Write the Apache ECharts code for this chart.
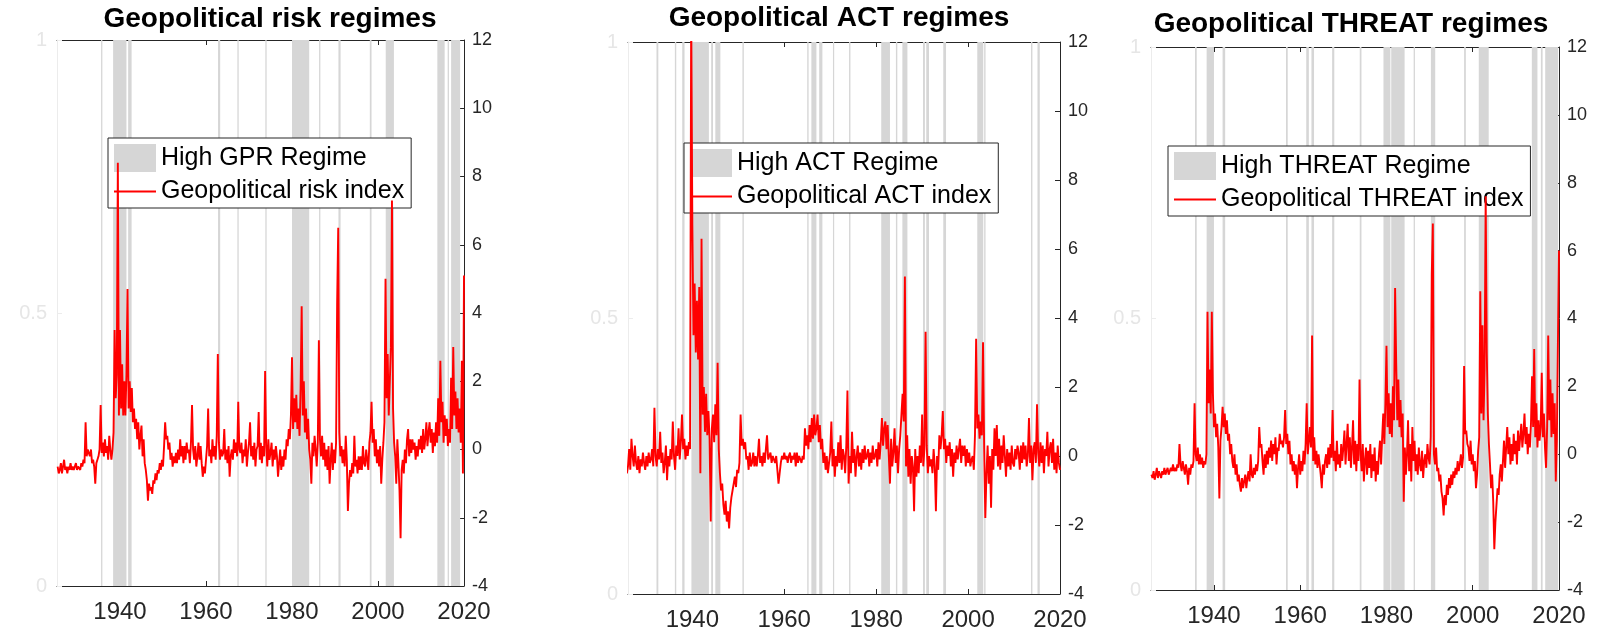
<!DOCTYPE html>
<html lang="en">
  <head>
    <meta charset="UTF-8" />
    <title>Geopolitical risk, ACT and THREAT regimes</title>
    <script src="https://cdn.jsdelivr.net/npm/echarts@6/dist/echarts.min.js"></script>
    <style>
      * {
        margin: 0;
        padding: 0;
      }
      body {
        background: #fff;
      }
    </style>
  </head>
  <body>
    <div id="main" style="width: 1597px; height: 635px"></div>
    <script>
      // readings, one per quarter, first one at 1925.5
      var startYear = 1925.5;
      var step = 0.25;

      var gprIndex = [
        -0.5,-0.7,
        // 1926-1929
        -0.6,-0.4,-0.7,-0.5, -0.3,-0.6,-0.5,-0.7, -0.5,-0.6,-0.4,-0.6, -0.5,-0.6,-0.5,-0.4,
        // 1930-1933
        -0.6,-0.5,-0.5,-0.6, -0.4,-0.5,-0.3,-0.4, 0.8,-0.2,0.0,-0.1, -0.2,0.0,-0.4,-0.3,
        // 1934-1937
        -0.5,-1.0,-0.4,-0.3, -0.2,0.0,1.3,-0.1, 0.2,-0.2,0.3,-0.1, 0.1,-0.3,0.4,0.0,
        // 1938-1941
        -0.3,0.0,0.5,3.5, 1.5,2.2,8.4,1.0, 3.5,1.2,2.5,1.0, 2.0,1.0,2.2,4.7,
        // 1942-1945
        1.2,2.0,1.1,1.8, 0.8,1.2,0.6,0.9, 0.3,0.8,0.0,0.4, 0.7,-0.2,0.3,-0.4,
        // 1946-1949
        -0.6,-0.9,-1.5,-1.0, -1.2,-1.1,-1.3,-0.9, -1.0,-0.7,-0.9,-0.6, -0.7,-0.4,-0.6,-0.3,
        // 1950-1953
        -0.5,0.1,0.8,0.3, 0.4,0.0,0.2,-0.3, -0.1,-0.5,-0.2,-0.4, -0.1,-0.4,0.0,-0.3,
        // 1954-1957
        0.3,-0.2,0.1,-0.4, 0.1,-0.3,0.2,-0.1, 0.0,-0.4,0.2,1.3, 0.0,-0.3,0.1,-0.5,
        // 1958-1961
        -0.2,0.2,-0.3,0.1, -0.4,-0.8,-0.5,-0.7, -0.3,0.1,1.2,-0.2, 0.0,-0.4,0.3,-0.2,
        // 1962-1965
        0.1,-0.3,0.4,2.8, 0.2,-0.3,0.0,-0.2, -0.1,0.6,-0.3,0.0, -0.4,0.1,-0.8,-0.2,
        // 1966-1969
        0.0,-0.3,0.3,-0.1, 0.2,-0.2,1.4,0.0, -0.1,0.2,-0.4,0.0, -0.2,0.3,-0.5,-0.1,
        // 1970-1973
        0.2,0.8,-0.2,0.1, -0.3,0.2,-0.5,0.0, 0.1,1.1,-0.3,0.2, -0.4,0.1,-0.2,2.3,
        // 1974-1977
        0.1,-0.5,0.3,-0.3, -0.1,0.2,-0.5,0.0, -0.3,0.1,-0.2,-0.8, -0.4,0.0,-0.6,-0.2,
        // 1978-1981
        -0.5,0.0,-0.3,0.3, 0.1,0.6,0.3,1.0, 2.7,0.6,1.5,0.8, 1.6,0.6,1.2,0.4,
        // 1982-1985
        1.8,4.2,1.0,2.0, 0.5,1.2,0.3,0.9, 0.0,-0.3,-1.0,0.2, -0.2,0.4,0.0,-0.5,
        // 1986-1989
        0.2,3.2,0.3,-0.2, 0.4,-0.3,0.2,-0.5, 0.0,-0.6,0.1,-1.0, -0.3,0.2,-0.6,0.0,
        // 1990-1993
        -0.4,0.2,4.3,6.5, 0.5,-0.2,0.1,-0.4, 0.0,-0.5,0.4,-0.3, -1.8,-1.0,-0.6,-0.8,
        // 1994-1997
        -0.4,-0.7,0.4,-0.5, -0.3,-0.7,-0.2,-0.6, -0.2,-0.6,0.1,-0.4, -0.5,0.0,-0.3,-0.6,
        // 1998-2001
        0.2,0.5,1.4,0.2, 0.6,-0.2,0.3,-0.4, 0.0,-0.5,0.1,-1.0, -0.3,0.2,0.8,5.0,
        // 2002-2005
        1.5,2.8,1.0,2.0, 3.0,7.3,1.2,0.2, -0.2,-1.0,0.3,-0.4, -1.2,-2.6,-0.6,-0.3,
        // 2006-2009
        -0.7,0.0,-0.4,0.3, 0.6,-0.2,0.3,-0.1, 0.3,0.0,0.2,-0.3, 0.1,-0.2,0.3,0.0,
        // 2010-2013
        0.4,-0.1,0.6,0.0, 0.3,0.8,0.1,0.5, 0.8,0.2,0.6,-0.1, 0.5,0.1,0.8,0.2,
        // 2014-2017
        1.5,0.4,2.6,0.8, 1.4,0.2,1.0,0.4, 0.9,0.1,0.6,0.2, 2.1,0.6,3.0,1.0,
        // 2018-2020
        1.7,0.6,1.5,0.5, 1.2,0.2,2.6,-0.7, 5.1
      ];

      var actIndex = [
        -0.2,-0.5,
        // 1926-1929
        -0.3,0.2,-0.4,0.5, 0.0,-0.3,0.3,-0.2, -0.4,0.0,-0.5,-0.1, -0.3,0.1,-0.2,-0.4,
        // 1930-1933
        0.0,-0.3,0.1,-0.2, -0.1,0.2,-0.3,1.4, 0.0,-0.3,0.2,-0.1, 0.7,-0.2,0.1,-0.5,
        // 1934-1937
        -0.2,0.3,-0.7,0.0, -0.3,0.2,-0.1,1.0, 0.0,-0.4,0.3,0.0, 0.8,-0.1,0.4,1.2,
        // 1938-1941
        0.2,0.5,-0.1,0.3, 0.0,0.4,0.2,13.0, 6.7,3.5,5.0,3.0, 4.5,2.8,4.9,-0.5,
        // 1942-1945
        6.3,1.2,2.0,0.7, 1.8,0.6,1.3,0.5, -1.9,0.8,1.2,0.4, 1.5,0.6,2.7,0.2,
        // 1946-1949
        -0.5,-1.0,-0.8,-1.4, -1.7,-1.3,-1.9,-1.6, -2.1,-1.5,-1.2,-1.0, -0.8,-0.6,-0.9,-0.4,
        // 1950-1953
        -0.5,-0.2,1.2,0.3, 0.5,0.2,0.4,-0.1, 0.0,-0.4,0.1,-0.3, -0.2,0.1,-0.3,0.0,
        // 1954-1957
        -0.3,0.0,0.5,-0.2, 0.0,-0.3,0.1,-0.2, 0.2,0.6,-0.1,0.0, 0.1,-0.2,0.0,-0.1,
        // 1958-1961
        -0.2,0.0,-0.4,-0.8, -0.5,-0.2,0.0,-0.1, 0.1,-0.1,0.0,-0.2, 0.0,0.1,-0.2,0.0,
        // 1962-1965
        -0.1,0.1,-0.3,0.1, -0.2,0.0,-0.1,-0.2, 0.0,-0.1,0.8,0.3, 0.6,0.2,0.9,0.4,
        // 1966-1969
        1.1,0.5,1.2,0.6, 0.8,1.2,0.4,0.9, 0.2,0.5,-0.2,0.1, -0.4,0.0,-0.5,-0.2,
        // 1970-1973
        0.1,1.0,-0.3,0.2, -0.6,0.0,-0.3,0.4, -0.2,0.6,-0.4,0.2, 0.0,-0.5,0.3,1.9,
        // 1974-1977
        -0.8,0.0,-0.5,0.7, -0.2,0.2,-0.6,0.0, 0.3,-0.3,0.1,-0.4, 0.2,-0.2,0.3,-0.1,
        // 1978-1981
        0.0,0.2,-0.3,0.1, -0.2,0.3,-0.1,0.0, 0.2,-0.3,0.4,-0.1, 0.4,1.1,0.3,0.8,
        // 1982-1985
        1.0,0.2,0.9,0.0, -0.8,0.5,-0.3,0.1, 0.8,-0.2,0.3,-0.5, 0.2,0.6,1.2,1.8,
        // 1986-1989
        1.0,5.2,-0.3,0.6, -0.6,0.2,-0.8,0.0, -0.3,-1.6,0.2,-0.6, 0.0,-0.5,0.3,-0.2,
        // 1990-1993
        1.2,-0.3,0.2,3.6, 0.3,-0.5,0.0,-0.3, -0.1,-0.5,0.2,-0.3, -1.6,0.0,-0.4,0.6,
        // 1994-1997
        0.2,0.6,1.3,0.2, 0.5,-0.2,0.3,0.0, 0.4,-0.3,0.2,-0.6, 0.1,-0.2,0.3,-0.1,
        // 1998-2001
        0.2,0.5,-0.2,0.3, 0.0,0.3,-0.3,0.2, -0.2,0.1,-0.3,-0.1, 0.0,-0.4,0.6,3.4,
        // 2002-2005
        0.8,1.2,0.5,1.0, 0.6,3.3,0.2,-1.8, -0.5,0.3,-0.8,0.0, -1.5,0.2,-0.4,0.8,
        // 2006-2009
        0.0,0.9,-0.3,0.5, -0.4,0.3,-0.2,0.6, 0.0,-0.6,0.2,-0.3, 0.1,-0.4,0.3,-0.2,
        // 2010-2013
        -0.3,0.2,-0.1,0.3, 0.1,-0.4,0.3,-0.2, 0.4,-0.1,0.3,-0.3, 0.0,1.1,-0.2,0.3,
        // 2014-2017
        -0.7,0.2,0.4,-0.2, 1.5,0.1,-0.3,0.4, -0.2,0.3,-0.5,0.2, 0.0,0.7,-0.3,0.2,
        // 2018-2020
        0.4,-0.2,0.5,-0.4, 0.1,-0.5,0.3,-0.2, -0.4
      ];

      var threatIndex = [
        -0.6,-0.7,
        // 1926-1929
        -0.5,-0.75,-0.6,-0.4, -0.7,-0.5,-0.6,-0.7, -0.5,-0.6,-0.4,-0.6, -0.5,-0.4,-0.6,-0.5,
        // 1930-1933
        -0.4,-0.5,-0.3,-0.5, -0.4,-0.5,-0.3,-0.4, 0.3,-0.3,-0.5,-0.2, -0.4,-0.6,-0.3,-0.5,
        // 1934-1937
        -0.9,-0.4,-0.6,-0.3, -0.4,-0.2,1.5,0.0, -0.2,0.2,-0.3,0.0, -0.3,-0.1,-0.4,-0.2,
        // 1938-1941
        -0.3,0.0,4.2,1.5, 2.5,1.2,4.2,1.8, 0.8,1.2,0.5,0.9, 0.2,-1.3,0.4,0.8,
        // 1942-1945
        1.4,0.8,1.2,0.6, 1.0,0.4,0.6,0.0, 0.3,-0.2,-0.4,0.0, -0.6,-0.3,-0.8,-0.6,
        // 1946-1949
        -0.9,-1.1,-0.7,-1.0, -0.8,-0.6,-1.0,-0.7, -0.5,-0.8,0.0,-0.6, -0.7,-0.4,-0.6,-0.3,
        // 1950-1953
        -0.5,-0.2,0.8,0.2, 0.3,-0.2,-0.6,0.0, -0.4,0.1,-0.3,0.2, -0.1,0.4,-0.2,0.3,
        // 1954-1957
        0.0,0.5,-0.3,0.2, 0.1,0.6,0.3,0.4, 0.2,0.5,1.3,0.3, 0.6,0.0,0.4,-0.3,
        // 1958-1961
        0.0,-0.5,-0.2,-0.6, -0.3,-1.0,-0.4,0.0, -0.6,-0.2,-0.5,0.1, -0.3,0.3,1.5,0.0,
        // 1962-1965
        0.4,0.8,0.2,3.5, -0.2,0.5,-0.3,0.1, -0.4,0.0,-0.3,-0.6, -1.0,-0.3,-0.6,-0.2,
        // 1966-1969
        0.0,-0.4,0.2,-0.3, 0.3,-0.1,1.3,-0.2, 0.1,-0.5,0.4,-0.3, 0.0,-0.4,0.3,-0.2,
        // 1970-1973
        0.2,0.7,-0.3,0.3, 0.9,-0.2,0.5,-0.4, 0.2,1.0,-0.3,0.4, -0.5,0.3,-0.2,2.2,
        // 1974-1977
        0.0,-0.5,0.3,-0.8, -0.2,0.2,-0.6,0.1, -0.4,0.3,-0.7,0.0, -0.5,0.2,-0.8,-0.2,
        // 1978-1981
        -0.6,0.0,0.4,-0.3, 0.5,1.2,0.3,1.5, 3.2,0.8,1.8,0.6, 1.5,0.5,2.0,1.0,
        // 1982-1985
        4.9,2.7,1.0,2.2, 0.8,1.6,0.5,1.2, -1.4,0.2,-0.6,0.0, 1.0,-0.5,0.3,-0.8,
        // 1986-1989
        0.8,-0.2,0.4,-0.5, 0.0,-0.6,0.2,-0.3, -0.5,0.1,-0.7,-0.2, 0.0,-0.4,0.3,-0.1,
        // 1990-1993
        -0.3,0.5,5.3,6.8, 0.0,-0.3,0.2,-0.5, -0.4,-0.8,-0.6,-1.1, -1.3,-1.8,-1.2,-1.5,
        // 1994-1997
        -0.9,-1.2,-0.7,-1.0, -0.6,-0.9,-0.5,-0.7, -0.4,-0.6,-0.2,-0.5, -0.3,0.0,-0.4,-0.1,
        // 1998-2001
        2.6,0.6,0.7,0.3, 0.2,-0.2,0.4,-0.3, 0.0,-0.5,-0.2,-1.0, -0.6,0.1,0.5,4.8,
        // 2002-2005
        1.2,3.8,1.0,2.5, 7.6,3.0,1.2,0.3, -0.3,-1.0,-0.6,-1.4, -2.8,-2.0,-1.5,-1.0,
        // 2006-2009
        -1.2,-0.6,-0.3,-0.8, -0.2,0.4,-0.4,0.2, 0.8,0.0,0.5,-0.3, 0.3,-0.2,0.6,0.0,
        // 2010-2013
        0.4,-0.3,0.7,0.1, 0.5,0.9,0.2,0.6, 1.2,0.3,0.8,0.0, 0.6,0.2,0.9,2.3,
        // 2014-2017
        0.8,3.1,0.5,1.5, 0.2,1.0,0.4,0.8, 2.4,0.5,1.2,0.2, -0.4,0.8,3.5,1.0,
        // 2018-2020
        2.2,0.5,1.8,0.6, 1.5,-0.8,0.4,3.3, 6.0
      ];

      // high regime spells, [from, to] in years
      var gprRegimes = [
        [1935.6, 1935.9], [1938.4, 1941.5], [1941.9, 1942.7], [1962.8, 1963.3],
        [1967.3, 1967.6], [1973.8, 1974.1], [1980.0, 1984.0], [1986.3, 1986.6],
        [1990.8, 1991.3], [1998.1, 1998.5], [2001.8, 2003.7], [2013.8, 2015.5],
        [2016.2, 2016.5], [2017.0, 2019.1]
      ];
      var actRegimes = [
        [1932.2, 1932.6], [1936.2, 1936.5], [1937.8, 1938.3], [1939.8, 1943.6],
        [1944.1, 1944.5], [1945.0, 1946.1], [1950.9, 1951.2], [1965.0, 1965.3],
        [1965.9, 1967.0], [1967.6, 1968.3], [1970.6, 1970.8], [1974.1, 1974.4],
        [1981.1, 1983.0], [1984.3, 1984.6], [1985.7, 1986.8], [1990.2, 1990.6],
        [1990.9, 1991.5], [1994.6, 1995.2], [2002.0, 2003.3], [2003.5, 2003.8],
        [2013.7, 2014.0], [2015.1, 2015.6]
      ];
      var threatRegimes = [
        [1935.6, 1936.0], [1938.3, 1940.0], [1942.0, 1942.6], [1956.7, 1957.1],
        [1961.4, 1962.0], [1962.6, 1963.2], [1967.4, 1967.9], [1973.8, 1974.2],
        [1979.3, 1980.9], [1981.1, 1984.2], [1986.3, 1986.6], [1990.3, 1991.3],
        [1998.0, 1998.4], [2001.4, 2003.7], [2013.7, 2015.0], [2015.8, 2016.2],
        [2016.8, 2019.8]
      ];

      var yearTicks = [1940, 1960, 1980, 2000, 2020];
      var titles = ['Geopolitical risk regimes', 'Geopolitical ACT regimes', 'Geopolitical THREAT regimes'];
      var regimeNames = ['High GPR Regime', 'High ACT Regime', 'High THREAT Regime'];
      var indexNames = ['Geopolitical risk index', 'Geopolitical ACT index', 'Geopolitical THREAT index'];
      var indexValues = [gprIndex, actIndex, threatIndex];
      var regimeSpans = [gprRegimes, actRegimes, threatRegimes];

      // layout of the three panels (px)
      var boxes = [
        { left: 57, top: 40, width: 407, height: 546, xMin: 1925.35, titleX: 270, titleY: 5, legendX: 108, legendY: 138 },
        { left: 628, top: 42, width: 432, height: 552, xMin: 1926.0, titleX: 839, titleY: 4, legendX: 684, legendY: 143 },
        { left: 1151, top: 47, width: 408, height: 543, xMin: 1925.4, titleX: 1351, titleY: 10, legendX: 1168, legendY: 146 }
      ];

      var font = '"Liberation Sans", Arial, Helvetica, sans-serif';
      var ink = '#262626';
      var faint = '#ececec';
      var regimeGray = '#d6d6d6';

      function drawRegime(params, api) {
        var a = api.coord([api.value(0), 1]);
        var b = api.coord([api.value(1), 0]);
        return {
          type: 'rect',
          shape: { x: a[0], y: a[1], width: Math.max(b[0] - a[0], 1.2), height: b[1] - a[1] },
          style: { fill: api.visual('color') }
        };
      }

      var option = {
        backgroundColor: '#fff',
        animation: false,
        title: [],
        legend: [],
        grid: [],
        xAxis: [],
        yAxis: [],
        series: []
      };

      boxes.forEach(function (b, k) {
        option.title.push({
          text: titles[k],
          left: b.titleX,
          top: b.titleY,
          textAlign: 'center',
          padding: 0,
          textStyle: { fontFamily: font, fontSize: 28, fontWeight: 'bold', color: '#000' }
        });
        option.grid.push({ left: b.left, top: b.top, width: b.width, height: b.height });

        var xBase = {
          gridIndex: k,
          type: 'value',
          min: b.xMin,
          max: 2020,
          axisLine: { show: true, onZero: false, lineStyle: { color: ink, width: 1 } },
          axisTick: { show: true, inside: true, length: 5, customValues: yearTicks, lineStyle: { color: ink } },
          splitLine: { show: false }
        };
        option.xAxis.push(Object.assign({}, xBase, {
          position: 'bottom',
          axisLabel: {
            customValues: yearTicks,
            formatter: function (v) {
              return String(Math.round(v));
            },
            fontFamily: font,
            fontSize: 24,
            color: ink,
            margin: 14
          }
        }));
        option.xAxis.push(Object.assign({}, xBase, {
          position: 'top',
          axisLabel: { show: false }
        }));

        option.yAxis.push({
          gridIndex: k,
          type: 'value',
          position: 'left',
          min: 0,
          max: 1,
          interval: 0.5,
          axisLine: { show: true, lineStyle: { color: faint } },
          axisTick: { show: true, inside: true, length: 5, lineStyle: { color: faint } },
          axisLabel: { fontFamily: font, fontSize: 20, color: '#e6e6e6', margin: 10 },
          splitLine: { show: false }
        });
        option.yAxis.push({
          gridIndex: k,
          type: 'value',
          position: 'right',
          min: -4,
          max: 12,
          interval: 2,
          axisLine: { show: true, lineStyle: { color: ink } },
          axisTick: { show: true, inside: true, length: 5, lineStyle: { color: ink } },
          axisLabel: { fontFamily: font, fontSize: 18, color: ink, margin: 8 },
          splitLine: { show: false }
        });

        option.series.push({
          name: regimeNames[k],
          type: 'custom',
          xAxisIndex: 2 * k,
          yAxisIndex: 2 * k,
          z: 1,
          itemStyle: { color: regimeGray },
          encode: { x: [0, 1], y: 2 },
          renderItem: drawRegime,
          data: regimeSpans[k].map(function (r) {
            return [r[0], r[1], 1];
          })
        });
        option.series.push({
          name: indexNames[k],
          type: 'line',
          xAxisIndex: 2 * k,
          yAxisIndex: 2 * k + 1,
          z: 3,
          symbol: 'none',
          clip: true,
          itemStyle: { color: '#ff0000' },
          lineStyle: { color: '#ff0000', width: 1.9 },
          data: indexValues[k].map(function (v, i) {
            return [startYear + i * step, v];
          })
        });

        option.legend.push({
          left: b.legendX,
          top: b.legendY,
          orient: 'vertical',
          z: 2,
          selectedMode: false,
          itemWidth: 42,
          itemHeight: 28,
          itemGap: 7,
          padding: [6, 7, 4, 5],
          borderColor: ink,
          borderWidth: 1,
          backgroundColor: '#fff',
          textStyle: { fontFamily: font, fontSize: 25, color: '#000' },
          data: [
            { name: regimeNames[k], icon: 'rect' },
            { name: indexNames[k], itemStyle: { opacity: 0 } }
          ]
        });
      });

      var myChart = echarts.init(document.getElementById('main'));
      myChart.setOption(option);
    </script>
  </body>
</html>
